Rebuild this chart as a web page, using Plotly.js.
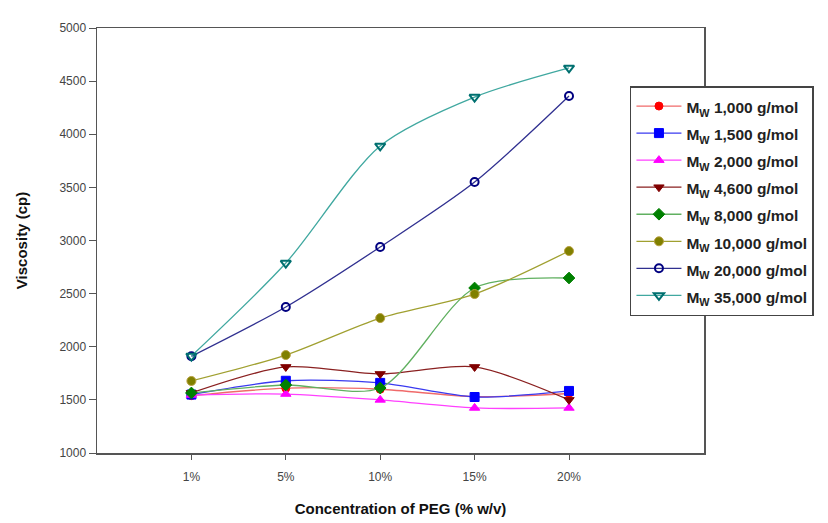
<!DOCTYPE html>
<html>
<head>
<meta charset="utf-8">
<script src="https://cdn.plot.ly/plotly-3.0.1.min.js"></script>
<style>html,body{margin:0;padding:0;background:#fff;}#chart{width:828px;height:523px;}</style>
</head>
<body>
<div id="chart"></div>
<script>
// Data
var concentrations = ["1%", "5%", "10%", "15%", "20%"];
var seriesNames = ["1,000", "1,500", "2,000", "4,600", "8,000", "10,000", "20,000", "35,000"];
var mw1000  = [1540, 1610, 1600, 1530, 1560];
var mw1500  = [1550, 1680, 1660, 1527, 1584];
var mw2000  = [1546, 1555, 1500, 1424, 1424];
var mw4600  = [1565, 1810, 1744, 1810, 1500];
var mw8000  = [1565, 1640, 1612, 2553, 2647];
var mw10000 = [1678, 1922, 2270, 2496, 2901];
var mw20000 = [1910, 2374, 2939, 3550, 4360];
var mw35000 = [1913, 2788, 3890, 4350, 4624];
var seriesValues = [mw1000, mw1500, mw2000, mw4600, mw8000, mw10000, mw20000, mw35000];

var styles = [
  {line: "#f06a6a", marker: "#ff0000", symbol: "circle", size: 8},
  {line: "#3a3af0", marker: "#0000ff", symbol: "square", size: 9},
  {line: "#ff40ff", marker: "#ff00ff", symbol: "triangle-up", size: 9},
  {line: "#8a2020", marker: "#800000", symbol: "triangle-down", size: 9},
  {line: "#60b060", marker: "#008000", symbol: "diamond", size: 9},
  {line: "#a0a030", marker: "#808000", symbol: "circle", size: 9, border: "#b8a040"},
  {line: "#303090", marker: "#000080", symbol: "circle-open", size: 8},
  {line: "#40a8a0", marker: "#007070", symbol: "triangle-down-open", size: 9}
];

var traces = seriesNames.map(function(n, i) {
  var s = styles[i];
  return {
    x: concentrations,
    y: seriesValues[i],
    name: '<span style="font-size:15.5px">M<sub>W</sub> ' + n + ' g/mol</span>',
    type: "scatter",
    mode: "lines+markers",
    line: {color: s.line, width: 1.3, shape: "spline", smoothing: 0.8},
    marker: {color: s.marker, symbol: s.symbol, size: s.size,
             line: {color: s.border || s.marker, width: s.symbol.indexOf("open") >= 0 ? 2 : 1}}
  };
});

var layout = {
  width: 828, height: 523,
  margin: {l: 97, r: 124, t: 28, b: 70},
  paper_bgcolor: "#fff", plot_bgcolor: "#fff",
  font: {family: "Liberation Sans, Arial, sans-serif", color: "#222"},
  showlegend: true,
  legend: {
    x: 0.878, y: 0.8635, xanchor: "left", yanchor: "top",
    bgcolor: "#fff", bordercolor: "#444", borderwidth: 1.5,
    font: {size: 18.5, color: "#222", weight: "bold"},
    itemwidth: 45,
    tracegroupgap: 0
  },
  xaxis: {
    type: "category",
    range: [-1, 5.43],
    showline: true, linecolor: "#555", linewidth: 1.5, mirror: true,
    ticks: "outside", ticklen: 5, tickcolor: "#555",
    tickfont: {size: 12, color: "#444"},
    ticklabelstandoff: 7,
    showgrid: false, zeroline: false,
    title: {text: "Concentration of PEG (% w/v)", font: {size: 15, color: "#111", weight: "bold"}, standoff: 20}
  },
  yaxis: {
    range: [1000, 5000],
    dtick: 500,
    showline: true, linecolor: "#555", linewidth: 1.5, mirror: true,
    ticks: "outside", ticklen: 7, tickcolor: "#555",
    tickfont: {size: 12, color: "#444"},
    showgrid: false, zeroline: false,
    title: {text: "Viscosity (cp)", font: {size: 15, color: "#111", weight: "bold"}, standoff: 28}
  }
};

Plotly.newPlot("chart", traces, layout, {displayModeBar: false, staticPlot: true});
</script>
</body>
</html>
